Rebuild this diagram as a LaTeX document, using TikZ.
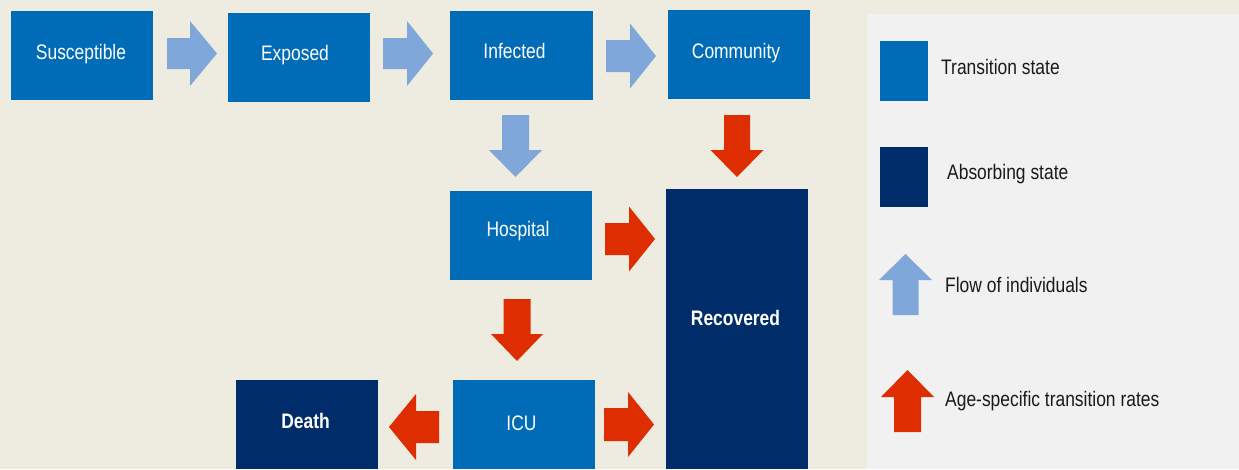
\documentclass[tikz,border=0pt]{standalone}
\usepackage{fontspec}
\setmainfont{Liberation Sans}[FakeStretch=0.83]
\definecolor{bgc}{HTML}{EEEBE1}
\definecolor{panelc}{HTML}{F1F1F1}
\definecolor{tblue}{HTML}{006BB6}
\definecolor{navy}{HTML}{002D6A}
\definecolor{lblue}{HTML}{7FA7D9}
\definecolor{redc}{HTML}{DE2D00}
\definecolor{txtc}{HTML}{1A1A1A}
% horizontal block arrow: colour, x0 (tail), x1 (head base), x2 (tip), yc, half shaft, half head
\newcommand{\harrow}[7]{\fill[#1] (#2,#5-#6) -- (#3,#5-#6) -- (#3,#5-#7) -- (#4,#5) -- (#3,#5+#7) -- (#3,#5+#6) -- (#2,#5+#6) -- cycle;}
% vertical block arrow: colour, xc, y0 (tail), y1 (head base), y2 (tip), half shaft, half head
\newcommand{\varrow}[7]{\fill[#1] (#2-#6,#3) -- (#2-#6,#4) -- (#2-#7,#4) -- (#2,#5) -- (#2+#7,#4) -- (#2+#6,#4) -- (#2+#6,#3) -- cycle;}
\tikzset{
  box/.style={rectangle, inner sep=0pt, draw=none, minimum width=142pt, minimum height=89pt},
  tstate/.style={box, fill=tblue},
  astate/.style={box, fill=navy},
  btxt/.style={inner sep=0pt, text=white, font=\fontsize{21}{25}\selectfont, text height=15pt, text depth=0pt},
  bbtxt/.style={btxt, font=\fontsize{21}{25}\selectfont\bfseries},
  ltxt/.style={inner sep=0pt, anchor=west, text=txtc, font=\fontsize{21}{25}\selectfont, text height=15pt, text depth=0pt},
}
\begin{document}
\begin{tikzpicture}[x=1pt,y=-1pt]
\fill[bgc] (0,0) rectangle (1239,469);
\useasboundingbox (0,0) rectangle (1239,469);
% legend panel
\fill[panelc] (867,14) rectangle (1239,469);

% states
\node[tstate] (sus) at (82,55.5) {};
\node[btxt] (sust) at (81,52) {Susceptible};
\node[tstate] (exp) at (299,57.5) {};
\node[btxt] (expt) at (295,53) {Exposed};
\node[tstate, minimum width=143pt] (inf) at (521.5,55.5) {};
\node[btxt] (inft) at (514.5,51) {Infected};
\node[tstate] (com) at (739,54.5) {};
\node[btxt] (comt) at (736,51) {Community};
\node[tstate] (hos) at (521,235.5) {};
\node[btxt] (host) at (518,229) {Hospital};
\node[astate, minimum height=280pt] (rec) at (737,329) {};
\node[bbtxt] (rect) at (735.5,318) {Recovered};
\node[tstate] (icu) at (524,424.5) {};
\node[btxt] (icut) at (521.5,423) {ICU};
\node[astate] (dea) at (307,424.5) {};
\node[bbtxt] (deat) at (305.5,421) {Death};

% flow arrows
\harrow{lblue}{167}{190}{217}{53.5}{15.5}{32.5}
\harrow{lblue}{383}{407}{433}{53.5}{15.5}{32.5}
\harrow{lblue}{606}{630}{656}{56}{16}{32.5}
\varrow{lblue}{515.5}{115}{150}{177}{13.5}{26.5}
% rate arrows
\varrow{redc}{737}{115}{150}{177}{13}{26.5}
\harrow{redc}{605}{629}{655}{239}{16}{32.5}
\varrow{redc}{517}{299}{334}{361}{13.5}{26}
\harrow{redc}{439}{416}{389}{427}{16}{33}
\harrow{redc}{604}{628}{654}{424.5}{16.5}{32.5}

% legend
\node[box, fill=tblue, minimum width=48pt, minimum height=60pt] (lt) at (904,71) {};
\node[ltxt] (ltt) at (941,67) {Transition state};
\node[box, fill=navy, minimum width=48pt, minimum height=60pt] (la) at (904,177) {};
\node[ltxt] (lat) at (947,172) {Absorbing state};
\varrow{lblue}{905.5}{315}{280}{254}{13}{26.5}
\node[ltxt] (lft) at (945,285) {Flow of individuals};
\varrow{redc}{907.5}{432}{397}{370}{13.5}{26.5}
\node[ltxt] (lrt) at (945,399) {Age-specific transition rates};
\end{tikzpicture}
\end{document}
